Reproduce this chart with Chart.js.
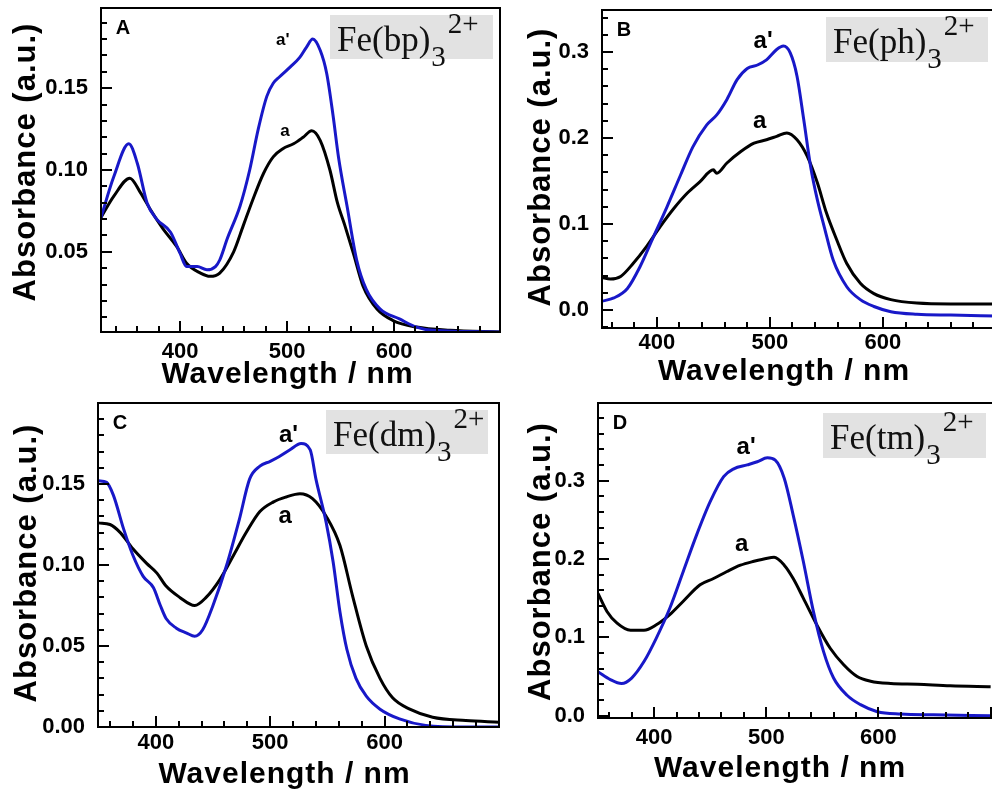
<!DOCTYPE html>
<html>
<head>
<meta charset="utf-8">
<script src="https://cdn.jsdelivr.net/npm/chart.js@4.4.1/dist/chart.umd.min.js"></script>
<style>
  html, body { margin: 0; padding: 0; background: #fff; }
  body { width: 992px; height: 792px; position: relative; overflow: hidden; }
  canvas { position: absolute; }
</style>
</head>
<body>
<canvas id="panelA" width="510" height="396" style="left:0;top:0"></canvas>
<canvas id="panelB" width="500" height="396" style="left:500px;top:0"></canvas>
<canvas id="panelC" width="510" height="396" style="left:0;top:396px"></canvas>
<canvas id="panelD" width="500" height="396" style="left:500px;top:396px"></canvas>
<script>
// UV-vis spectra, curve a (black) and a' (blue) for each Fe(L)3 2+ complex

// Fe(bp)3
const bpWaveA = [326, 338, 353, 363, 372, 384, 397, 406, 419, 428, 437, 450, 459, 468, 478, 487, 496, 506, 515, 523, 531, 540, 547, 554, 562, 571, 584, 599, 621, 652, 699];
const bpAbsA = [0.071, 0.084, 0.095, 0.086, 0.076, 0.064, 0.053, 0.043, 0.037, 0.035, 0.037, 0.050, 0.066, 0.082, 0.098, 0.108, 0.113, 0.116, 0.120, 0.124, 0.118, 0.100, 0.080, 0.066, 0.049, 0.029, 0.015, 0.008, 0.004, 0.002, 0.001];
const bpWavePrime = [326, 338, 352, 360, 369, 378, 391, 400, 406, 416, 425, 433, 437, 444, 456, 465, 473, 481, 487, 493, 503, 512, 518, 524, 531, 537, 543, 548, 556, 565, 574, 587, 605, 621, 636, 699];
const bpAbsPrime = [0.071, 0.096, 0.116, 0.104, 0.080, 0.070, 0.062, 0.049, 0.041, 0.041, 0.039, 0.041, 0.045, 0.058, 0.078, 0.100, 0.125, 0.145, 0.153, 0.157, 0.163, 0.169, 0.175, 0.180, 0.173, 0.159, 0.133, 0.108, 0.078, 0.045, 0.027, 0.015, 0.009, 0.004, 0.002, 0.001];

// Fe(ph)3
const phWaveA = [351, 359, 368, 379, 391, 403, 415, 427, 438, 450, 453, 462, 474, 486, 497, 506, 515, 524, 533, 542, 550, 559, 568, 580, 592, 607, 630, 660, 700];
const phAbsA = [0.038, 0.036, 0.039, 0.054, 0.074, 0.097, 0.118, 0.136, 0.149, 0.163, 0.159, 0.171, 0.184, 0.194, 0.198, 0.202, 0.206, 0.198, 0.179, 0.148, 0.113, 0.082, 0.054, 0.031, 0.019, 0.012, 0.008, 0.007, 0.007];
const phWavePrime = [351, 362, 374, 385, 397, 409, 421, 432, 444, 453, 462, 471, 480, 489, 497, 506, 512, 518, 524, 530, 536, 542, 548, 556, 568, 580, 592, 607, 630, 660, 700];
const phAbsPrime = [0.010, 0.014, 0.025, 0.050, 0.085, 0.120, 0.157, 0.190, 0.215, 0.227, 0.245, 0.268, 0.281, 0.285, 0.291, 0.303, 0.307, 0.299, 0.272, 0.221, 0.167, 0.128, 0.097, 0.058, 0.027, 0.012, 0.004, -0.002, -0.005, -0.006, -0.007];

// Fe(dm)3
const dmWaveA = [350, 360, 369, 380, 392, 401, 409, 421, 434, 444, 456, 468, 479, 491, 503, 514, 526, 537, 549, 561, 572, 584, 596, 607, 622, 642, 671, 700];
const dmAbsA = [0.126, 0.125, 0.120, 0.110, 0.101, 0.095, 0.087, 0.080, 0.075, 0.080, 0.091, 0.106, 0.120, 0.133, 0.139, 0.142, 0.144, 0.141, 0.130, 0.112, 0.081, 0.050, 0.030, 0.018, 0.011, 0.006, 0.004, 0.003];
const dmWavePrime = [350, 357, 363, 372, 380, 389, 398, 404, 409, 418, 427, 434, 441, 450, 462, 473, 482, 491, 500, 508, 517, 527, 535, 540, 549, 555, 561, 567, 575, 584, 596, 613, 636, 671, 700];
const dmAbsPrime = [0.152, 0.151, 0.143, 0.122, 0.106, 0.093, 0.086, 0.075, 0.067, 0.061, 0.058, 0.056, 0.060, 0.075, 0.100, 0.128, 0.153, 0.161, 0.164, 0.167, 0.171, 0.175, 0.171, 0.153, 0.126, 0.102, 0.071, 0.048, 0.030, 0.019, 0.011, 0.005, 0.001, 0.000, 0.000];

// Fe(tm)3
const tmWaveA = [350, 358, 367, 379, 391, 402, 414, 426, 441, 453, 465, 477, 489, 501, 507, 516, 524, 533, 545, 557, 569, 581, 593, 611, 635, 664, 700];
const tmAbsA = [0.156, 0.133, 0.118, 0.109, 0.109, 0.116, 0.129, 0.146, 0.167, 0.175, 0.184, 0.192, 0.197, 0.201, 0.202, 0.192, 0.175, 0.150, 0.116, 0.086, 0.065, 0.050, 0.044, 0.041, 0.040, 0.038, 0.037];
const tmWavePrime = [350, 361, 371, 380, 391, 402, 414, 426, 438, 450, 462, 471, 483, 492, 501, 508, 516, 524, 533, 542, 551, 560, 572, 584, 599, 620, 649, 700];
const tmAbsPrime = [0.056, 0.046, 0.041, 0.048, 0.069, 0.099, 0.137, 0.184, 0.231, 0.273, 0.305, 0.315, 0.320, 0.324, 0.329, 0.326, 0.303, 0.256, 0.197, 0.133, 0.082, 0.048, 0.026, 0.014, 0.005, 0.002, 0.001, 0.000];

// tick labels
const waveTicks = ['400', '500', '600'];
const bpAbsTicks = ['0.05', '0.10', '0.15'];
const phAbsTicks = ['0.0', '0.1', '0.2', '0.3'];
const dmAbsTicks = ['0.00', '0.05', '0.10', '0.15'];
const tmAbsTicks = ['0.0', '0.1', '0.2', '0.3'];

const blue = 'rgb(24, 24, 200)';
const sans = '"Liberation Sans", Arial, sans-serif';
const serif = '"Liberation Serif", "Times New Roman", serif';

function toPoints(xs, ys) {
    return xs.map((x, i) => ({ x: x, y: ys[i] }));
}

function stepValues(min, max, step) {
    const out = [];
    for (let k = Math.ceil(min / step - 1e-6); k * step <= max + 1e-9; k++) out.push(k * step);
    return out;
}

function drawPanel(p) {
    const decor = {
        id: 'decor',
        afterDraw(chart) {
            const ctx = chart.ctx;
            const area = chart.chartArea;
            const xs = chart.scales.x, ys = chart.scales.y;
            ctx.save();

            // inward ticks
            ctx.strokeStyle = '#000';
            ctx.lineWidth = 2;
            stepValues(xs.min, xs.max, 20).forEach(v => {
                const px = Math.round(xs.getPixelForValue(v));
                const len = Math.round(v) % 100 === 0 ? 11 : 6;
                ctx.beginPath();
                ctx.moveTo(px, area.bottom);
                ctx.lineTo(px, area.bottom - len);
                ctx.stroke();
            });
            stepValues(ys.min, ys.max, p.yMinor).forEach(v => {
                const py = Math.round(ys.getPixelForValue(v));
                const r = v / p.yMajor;
                const len = Math.abs(r - Math.round(r)) < 1e-6 ? 11 : 6;
                ctx.beginPath();
                ctx.moveTo(area.left, py);
                ctx.lineTo(area.left + len, py);
                ctx.stroke();
            });

            // frame
            ctx.lineWidth = 2;
            ctx.strokeRect(area.left, area.top, area.right - area.left, area.bottom - area.top);

            // panel letter
            ctx.fillStyle = '#000';
            ctx.font = 'bold 20px ' + sans;
            ctx.textAlign = 'center';
            ctx.textBaseline = 'middle';
            ctx.fillText(p.letter, area.left + 22, area.top + 20);

            // curve labels
            ctx.font = 'bold ' + p.curveFont + 'px ' + sans;
            p.curveLabels.forEach(c => {
                ctx.fillText(c.text, xs.getPixelForValue(c.x), ys.getPixelForValue(c.y));
            });

            // complex name box
            const bx = area.right - p.box.dr - p.box.w;
            const by = area.top + p.box.dt;
            ctx.fillStyle = '#e2e2e2';
            ctx.fillRect(bx, by, p.box.w, p.box.h);
            ctx.fillStyle = '#111';
            ctx.textAlign = 'left';
            ctx.textBaseline = 'alphabetic';
            ctx.font = '35px ' + serif;
            const main = 'Fe(' + p.ligand + ')';
            let tx = bx + 7;
            ctx.fillText(main, tx, by + 36);
            tx += ctx.measureText(main).width + 1;
            ctx.font = '29px ' + serif;
            ctx.fillText('3', tx, by + 51);
            tx += ctx.measureText('3').width + 2;
            ctx.fillText('2+', tx, by + 18);

            // axis titles
            ctx.fillStyle = '#000';
            ctx.letterSpacing = '1px';
            ctx.font = 'bold 30px ' + sans;
            ctx.textAlign = 'center';
            ctx.fillText('Wavelength / nm', (area.left + area.right) / 2 + p.xTitle.dx, area.bottom + p.xTitle.dy);
            ctx.translate(area.left + p.yTitle.dx, (area.top + area.bottom) / 2 + p.yTitle.dy);
            ctx.rotate(-Math.PI / 2);
            ctx.textBaseline = 'middle';
            ctx.font = 'bold 31px ' + sans;
            ctx.fillText('Absorbance (a.u.)', 0, 0);
            ctx.letterSpacing = '0px';
            ctx.restore();
        }
    };

    new Chart(document.getElementById(p.id), {
        type: 'line',
        data: {
            datasets: [{
                label: "a'",
                data: toPoints(p.wavePrime, p.absPrime),
                borderColor: blue
            }, {
                label: 'a',
                data: toPoints(p.waveA, p.absA),
                borderColor: '#000'
            }]
        },
        options: {
            responsive: false,
            animation: false,
            devicePixelRatio: 1,
            layout: { padding: p.padding },
            elements: {
                point: { radius: 0 },
                line: { borderWidth: 3, cubicInterpolationMode: 'monotone', fill: false }
            },
            plugins: {
                legend: { display: false },
                tooltip: { enabled: false }
            },
            scales: {
                x: {
                    type: 'linear',
                    min: p.xMin,
                    max: p.xMax,
                    grid: { display: false },
                    border: { display: false },
                    afterBuildTicks: s => { s.ticks = waveTicks.map(v => ({ value: parseFloat(v) })); },
                    afterFit: s => {
                        s.height = p.xAxisHeight;
                        s.paddingLeft = 0;
                        s.paddingRight = 0;
                    },
                    ticks: {
                        callback: (v, i) => waveTicks[i],
                        autoSkip: false,
                        maxRotation: 0,
                        padding: p.xTickPad,
                        color: '#000',
                        font: { family: sans, size: 22, weight: 'bold' }
                    }
                },
                y: {
                    type: 'linear',
                    min: p.yMin,
                    max: p.yMax,
                    grid: { display: false },
                    border: { display: false },
                    afterBuildTicks: s => { s.ticks = p.yTicks.map(v => ({ value: parseFloat(v) })); },
                    afterFit: s => {
                        s.width = p.yAxisWidth;
                        s.paddingTop = 0;
                        s.paddingBottom = 0;
                    },
                    ticks: {
                        callback: (v, i) => p.yTicks[i],
                        autoSkip: false,
                        padding: 5,
                        color: '#000',
                        font: { family: sans, size: 22, weight: 'bold' }
                    }
                }
            }
        },
        plugins: [decor]
    });
}

window.addEventListener('load', () => {

    drawPanel({
        id: 'panelA', letter: 'A', ligand: 'bp',
        waveA: bpWaveA, absA: bpAbsA, wavePrime: bpWavePrime, absPrime: bpAbsPrime,
        xMin: 326, xMax: 699, yMin: 0.001, yMax: 0.199,
        yTicks: bpAbsTicks, yMajor: 0.05, yMinor: 0.01,
        padding: { top: 8, right: 10, left: 0, bottom: 0 },
        yAxisWidth: 101, xAxisHeight: 64, xTickPad: -1,
        curveFont: 17,
        curveLabels: [{ text: "a'", x: 496, y: 0.1795 }, { text: 'a', x: 498, y: 0.1236 }],
        box: { dr: 7, dt: 7, w: 163, h: 44 },
        xTitle: { dx: -13, dy: 51 },
        yTitle: { dx: -75, dy: -8 }
    });

    drawPanel({
        id: 'panelB', letter: 'B', ligand: 'ph',
        waveA: phWaveA, absA: phAbsA, wavePrime: phWavePrime, absPrime: phAbsPrime,
        xMin: 351.5, xMax: 700, yMin: -0.021, yMax: 0.349,
        yTicks: phAbsTicks, yMajor: 0.1, yMinor: 0.02,
        padding: { top: 10, right: 4, left: 0, bottom: 0 },
        yAxisWidth: 102, xAxisHeight: 68, xTickPad: -6,
        curveFont: 24,
        curveLabels: [{ text: "a'", x: 494, y: 0.312 }, { text: 'a', x: 491, y: 0.219 }],
        box: { dr: 8, dt: 7, w: 162, h: 45 },
        xTitle: { dx: -15, dy: 52 },
        yTitle: { dx: -61, dy: -2 }
    });

    drawPanel({
        id: 'panelC', letter: 'C', ligand: 'dm',
        waveA: dmWaveA, absA: dmAbsA, wavePrime: dmWavePrime, absPrime: dmAbsPrime,
        xMin: 349.5, xMax: 700, yMin: 0, yMax: 0.2,
        yTicks: dmAbsTicks, yMajor: 0.05, yMinor: 0.01,
        padding: { top: 7, right: 11, left: 0, bottom: 0 },
        yAxisWidth: 98, xAxisHeight: 65, xTickPad: -5,
        curveFont: 24,
        curveLabels: [{ text: "a'", x: 516, y: 0.180 }, { text: 'a', x: 513, y: 0.130 }],
        box: { dr: 11, dt: 7, w: 162, h: 44 },
        xTitle: { dx: -14, dy: 56 },
        yTitle: { dx: -71, dy: -2 }
    });

    drawPanel({
        id: 'panelD', letter: 'D', ligand: 'tm',
        waveA: tmWaveA, absA: tmAbsA, wavePrime: tmWavePrime, absPrime: tmAbsPrime,
        xMin: 350, xMax: 703, yMin: -0.003, yMax: 0.399,
        yTicks: tmAbsTicks, yMajor: 0.1, yMinor: 0.02,
        padding: { top: 7, right: 6, left: 0, bottom: 0 },
        yAxisWidth: 98, xAxisHeight: 74, xTickPad: -1,
        curveFont: 24,
        curveLabels: [{ text: "a'", x: 482, y: 0.343 }, { text: 'a', x: 478, y: 0.218 }],
        box: { dr: 8, dt: 10, w: 163, h: 45 },
        xTitle: { dx: -16, dy: 59 },
        yTitle: { dx: -57, dy: 1 }
    });

});
</script>
</body>
</html>
